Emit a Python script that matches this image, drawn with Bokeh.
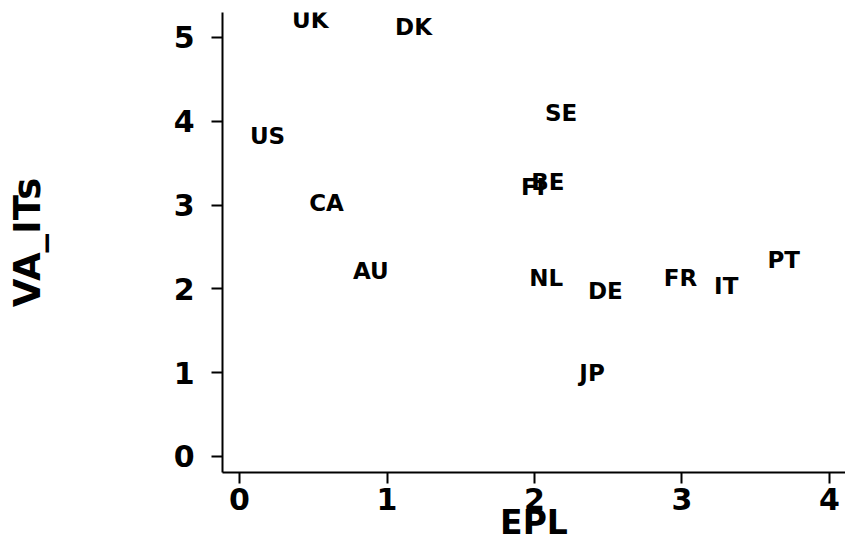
from bokeh.plotting import figure
from bokeh.models import ColumnDataSource, Range1d, FixedTicker
from bokeh.core.properties import value
from bokeh.embed import file_html
from bokeh.resources import INLINE

countries = ["UK", "DK", "US", "SE", "CA", "BE", "FI", "AU", "NL", "DE", "FR", "IT", "PT", "JP"]
epl = [0.48, 1.18, 0.19, 2.18, 0.59, 2.09, 1.99, 0.89, 2.08, 2.48, 2.99, 3.30, 3.69, 2.39]
va_its = [5.21, 5.12, 3.82, 4.10, 3.02, 3.28, 3.21, 2.21, 2.13, 1.98, 2.13, 2.03, 2.34, 1.00]
x_ticks = [0, 1, 2, 3, 4]
y_ticks = [0, 1, 2, 3, 4, 5]
x_title = "EPL"
y_title = "VA_ITs"

FONT = "DejaVu Sans"

src = ColumnDataSource(dict(epl=epl, va=va_its, label=countries))

p = figure(frame_width=623, frame_height=460,
           x_range=Range1d(-0.1153, 4.1085), y_range=Range1d(-0.191, 5.298),
           output_backend="svg", toolbar_location=None,
           min_border_left=222, min_border_top=12, min_border_right=0, min_border_bottom=0,
           background_fill_color="white", border_fill_color="white")
p.outline_line_color = None
p.xgrid.visible = False
p.ygrid.visible = False

p.text(x="epl", y="va", text="label", source=src,
       text_font=value(FONT), text_font_style="bold", text_font_size="23px",
       text_align="center", text_baseline="middle", text_color="black")

for ax in (p.xaxis[0], p.yaxis[0]):
    ax.axis_line_width = 2
    ax.axis_line_color = "black"
    ax.major_tick_line_width = 2
    ax.major_tick_line_color = "black"
    ax.major_tick_out = 11
    ax.major_tick_in = 0
    ax.minor_tick_line_color = None
    ax.major_label_text_font = FONT
    ax.major_label_text_font_style = "bold"
    ax.major_label_text_font_size = "30px"
    ax.major_label_text_color = "black"
    ax.major_label_text_line_height = 1.0
    ax.axis_label_text_font = FONT
    ax.axis_label_text_font_style = "bold"
    ax.axis_label_text_color = "black"
    ax.axis_label_text_line_height = 1.0

p.xaxis.axis_label_text_font_size = "33px"
p.yaxis.axis_label_text_font_size = "37px"
p.xaxis.ticker = FixedTicker(ticks=x_ticks)
p.yaxis.ticker = FixedTicker(ticks=y_ticks)
p.xaxis.axis_label = x_title
p.yaxis.axis_label = y_title
p.xaxis.major_label_standoff = 4
p.xaxis.axis_label_standoff = -10
p.yaxis.major_label_standoff = 17
p.yaxis.axis_label_standoff = 122

open("out.html", "w").write(file_html(p, INLINE))
